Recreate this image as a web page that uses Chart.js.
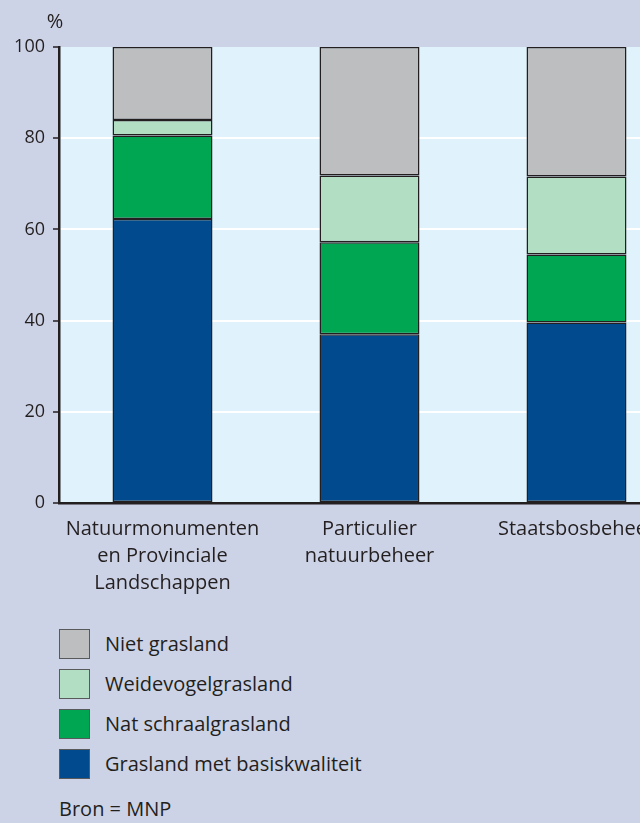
<!DOCTYPE html>
<html>
<head>
<meta charset="utf-8">
<script src="https://cdn.jsdelivr.net/npm/chart.js@4.4.1/dist/chart.umd.min.js"></script>
<style>
  body { margin: 0; background: #cdd3e6; overflow: hidden; width: 640px; height: 823px; font-family: "Open Sans", sans-serif; color: #231f20; }
  #wrap { position: absolute; left: 0; top: 0; width: 680px; height: 600px; }
  #legend { position: absolute; left: 59px; top: 629px; }
  .item { height: 40px; display: flex; align-items: flex-start; }
  .box { width: 29px; height: 28px; border: 1px solid #58595b; margin-right: 15px; }
  .item span { font-size: 20px; line-height: 30px; }
  #bron { position: absolute; left: 59px; top: 795px; font-size: 20px; line-height: 28px; }
</style>
</head>
<body>
<div id="wrap"><canvas id="chart"></canvas></div>
<div id="legend"></div>
<div id="bron">Bron = MNP</div>
<script>
const categories = [
    ['Natuurmonumenten', 'en Provinciale', 'Landschappen'],
    ['Particulier', 'natuurbeheer'],
    ['Staatsbosbeheer']
];
const basis = [62.3, 37.0, 39.6];
const natSchraal = [18.3, 20.2, 14.9];
const weidevogel = [3.4, 14.6, 17.1];
const nietGras = [16.0, 28.2, 28.4];
const yTicks = [0, 20, 40, 60, 80, 100];

const ink = '#231f20';

// light blue plot area + the % sign above the y axis
const plotBg = {
    id: 'plotBg',
    beforeDraw(chart) {
        const { ctx, chartArea } = chart;
        ctx.save();
        ctx.fillStyle = '#e0f2fc';
        ctx.fillRect(chartArea.left, chartArea.top, chartArea.right - chartArea.left, chartArea.bottom - chartArea.top);
        ctx.fillStyle = ink;
        ctx.font = '20px "Open Sans"';
        ctx.textAlign = 'center';
        ctx.textBaseline = 'middle';
        ctx.fillText('%', 55, 22);
        ctx.restore();
    }
};

const chart = new Chart(document.getElementById('chart'), {
    type: 'bar',
    data: {
        labels: categories,
        datasets: [
            { label: 'Grasland met basiskwaliteit', data: basis, backgroundColor: '#004a8d' },
            { label: 'Nat schraalgrasland', data: natSchraal, backgroundColor: '#00a651' },
            { label: 'Weidevogelgrasland', data: weidevogel, backgroundColor: '#b2dfc4' },
            { label: 'Niet grasland', data: nietGras, backgroundColor: '#bcbec0' }
        ].map(d => Object.assign(d, {
            borderColor: ink,
            borderWidth: 1.5,
            borderSkipped: false,
            categoryPercentage: 1,
            barPercentage: 0.483
        }))
    },
    options: {
        responsive: true,
        maintainAspectRatio: false,
        animation: false,
        layout: { padding: { top: 47, right: 0, left: 0, bottom: 0 } },
        plugins: {
            legend: { display: false },
            tooltip: { enabled: false }
        },
        scales: {
            x: {
                stacked: true,
                grid: { display: false },
                border: { display: true, color: ink, width: 2.5 },
                ticks: {
                    color: ink,
                    font: { family: 'Open Sans', size: 20, lineHeight: 1.35 },
                    maxRotation: 0,
                    minRotation: 0,
                    autoSkip: false,
                    padding: 5
                },
                afterFit(scale) { scale.height = 97; }
            },
            y: {
                stacked: true,
                min: 0,
                max: 100,
                afterBuildTicks(scale) { scale.ticks = yTicks.map(v => ({ value: v })); },
                grid: {
                    color: c => (c.tick && (c.tick.value === 0 || c.tick.value === 100)) ? 'rgba(0,0,0,0)' : '#ffffff',
                    lineWidth: 2,
                    tickColor: ink,
                    tickLength: 6,
                    tickWidth: 1.5
                },
                border: { display: true, color: ink, width: 2.5 },
                ticks: {
                    color: ink,
                    font: { family: 'Open Sans', size: 18 },
                    padding: 8
                },
                afterFit(scale) { scale.width = 59; }
            }
        }
    },
    plugins: [plotBg]
});

// legend built from the datasets, top to bottom as in the stack
const legend = document.getElementById('legend');
chart.data.datasets.slice().reverse().forEach(ds => {
    const item = document.createElement('div');
    item.className = 'item';
    item.innerHTML = '<div class="box" style="background:' + ds.backgroundColor + '"></div><span>' + ds.label + '</span>';
    legend.appendChild(item);
});
</script>
</body>
</html>
